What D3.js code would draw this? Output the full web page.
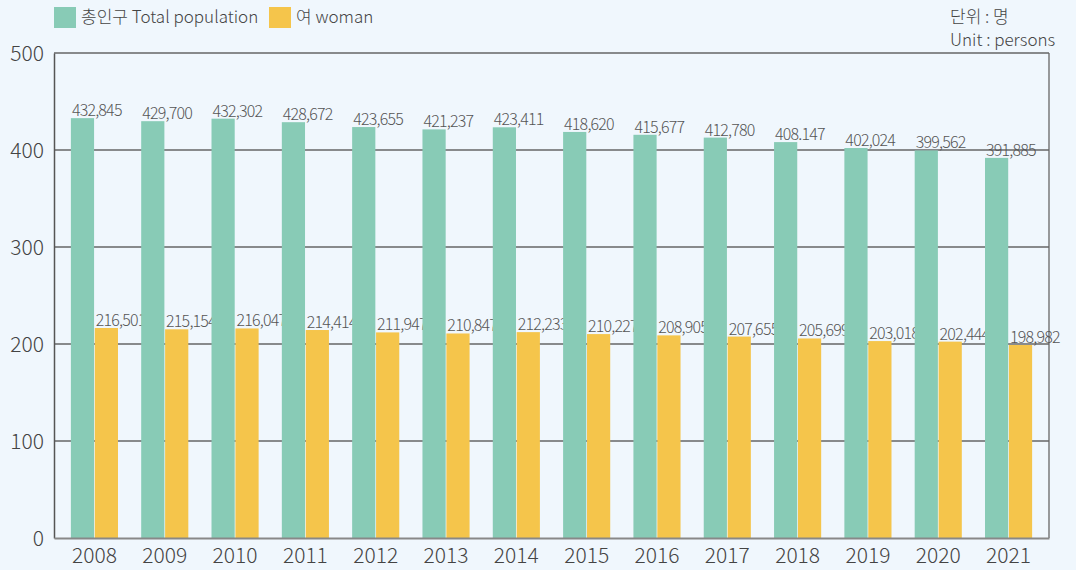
<!DOCTYPE html>
<html><head><meta charset="utf-8">
<script src="https://cdn.jsdelivr.net/npm/d3@7/dist/d3.min.js"></script>
<style>
html,body{margin:0;padding:0;background:#f0f7fd;}
text{font-family:"Noto Sans CJK KR","Noto Sans",sans-serif;font-weight:300;}
</style></head>
<body><svg id="c" width="1076" height="570"></svg>
<script>
const years = ["2008","2009","2010","2011","2012","2013","2014","2015","2016","2017","2018","2019","2020","2021"];
const totalValues = [432845,429700,432302,428672,423655,421237,423411,418620,415677,412780,408147,402024,399562,391885];
const womanValues = [216501,215154,216047,214414,211947,210847,212233,210227,208905,207655,205699,203018,202444,198982];
const totalLabels = ["432,845","429,700","432,302","428,672","423,655","421,237","423,411","418,620","415,677","412,780","408.147","402,024","399,562","391,885"];
const womanLabels = ["216,501","215,154","216,047","214,414","211,947","210,847","212,233","210,227","208,905","207,655","205,699","203,018","202,444","198,982"];
const yTicks = [0,100,200,300,400,500];
const seriesNames = ["총인구 Total population","여 woman"];
const unitLines = ["단위 : 명","Unit : persons"];

const colors = ["#88cbb6","#f5c54b"];
const svg = d3.select("#c");
const L=54, R=1049, T=53, B=538;

svg.append("rect").attr("x",0).attr("y",0).attr("width",1076).attr("height",570).attr("fill","#f0f7fd");

const x0 = d3.scaleBand().domain(years).range([L,R]).paddingInner(0.33).paddingOuter(0.24);
const x1 = d3.scaleBand().domain([0,1]).range([0,x0.bandwidth()]).paddingInner(0.03);
const y = d3.scaleLinear().domain([0,500]).range([B,T]);

const g = svg.append("g");
g.selectAll("line.grid").data(yTicks.filter(d=>d>0)).join("line")
  .attr("x1",L).attr("x2",R).attr("y1",d=>y(d)).attr("y2",d=>y(d))
  .attr("stroke","#666").attr("stroke-width",1.3);
g.append("line").attr("x1",R).attr("x2",R).attr("y1",T).attr("y2",B).attr("stroke","#666").attr("stroke-width",1.3);

const yAxis = d3.axisLeft(y).tickValues(yTicks).tickSize(0).tickPadding(10);
const ya = svg.append("g").attr("transform",`translate(${L},0)`).call(yAxis);
ya.select(".domain").attr("stroke","#555").attr("stroke-width",1.5);
ya.selectAll("text").attr("font-size",21).attr("fill","#444").attr("dy","0.35em")
  .style("font-family",'"Noto Sans CJK KR","Noto Sans",sans-serif').style("font-weight",300);

const data = years.map((yr,i)=>({yr, vals:[totalValues[i],womanValues[i]], labels:[totalLabels[i],womanLabels[i]]}));
const groups = svg.append("g").selectAll("g").data(data).join("g").attr("transform",d=>`translate(${x0(d.yr)},0)`);
groups.selectAll("rect").data(d=>d.vals.map((v,k)=>({v,k}))).join("rect")
  .attr("x",d=>x1(d.k)).attr("width",x1.bandwidth())
  .attr("y",d=>y(d.v/1000)).attr("height",d=>B-y(d.v/1000))
  .attr("fill",d=>colors[d.k]);
groups.selectAll("text").data(d=>d.vals.map((v,k)=>({v,k,l:d.labels[k]}))).join("text")
  .attr("x",d=>x1(d.k)+1).attr("y",d=>y(d.v/1000)-2)
  .attr("font-size",16).attr("fill","#555").attr("letter-spacing","-0.8")
  .text(d=>d.l);

const xAxis = d3.axisBottom(x0).tickSize(0).tickPadding(10);
const xa = svg.append("g").attr("transform",`translate(0,${B})`).call(xAxis);
xa.select(".domain").attr("stroke","#888").attr("stroke-width",2);
xa.selectAll("text").attr("font-size",21).attr("fill","#444")
  .style("font-family",'"Noto Sans CJK KR","Noto Sans",sans-serif').style("font-weight",300);

const leg = svg.append("g");
const legX = [54,269];
seriesNames.forEach((n,i)=>{
  leg.append("rect").attr("x",legX[i]).attr("y",7).attr("width",22).attr("height",21).attr("fill",colors[i]);
  leg.append("text").attr("x",legX[i]+27).attr("y",23).attr("font-size",17).attr("fill","#444").text(n);
});
unitLines.forEach((t,i)=>{
  svg.append("text").attr("x",950).attr("y",23+i*23).attr("font-size",17).attr("fill","#444").text(t);
});
</script></body></html>
